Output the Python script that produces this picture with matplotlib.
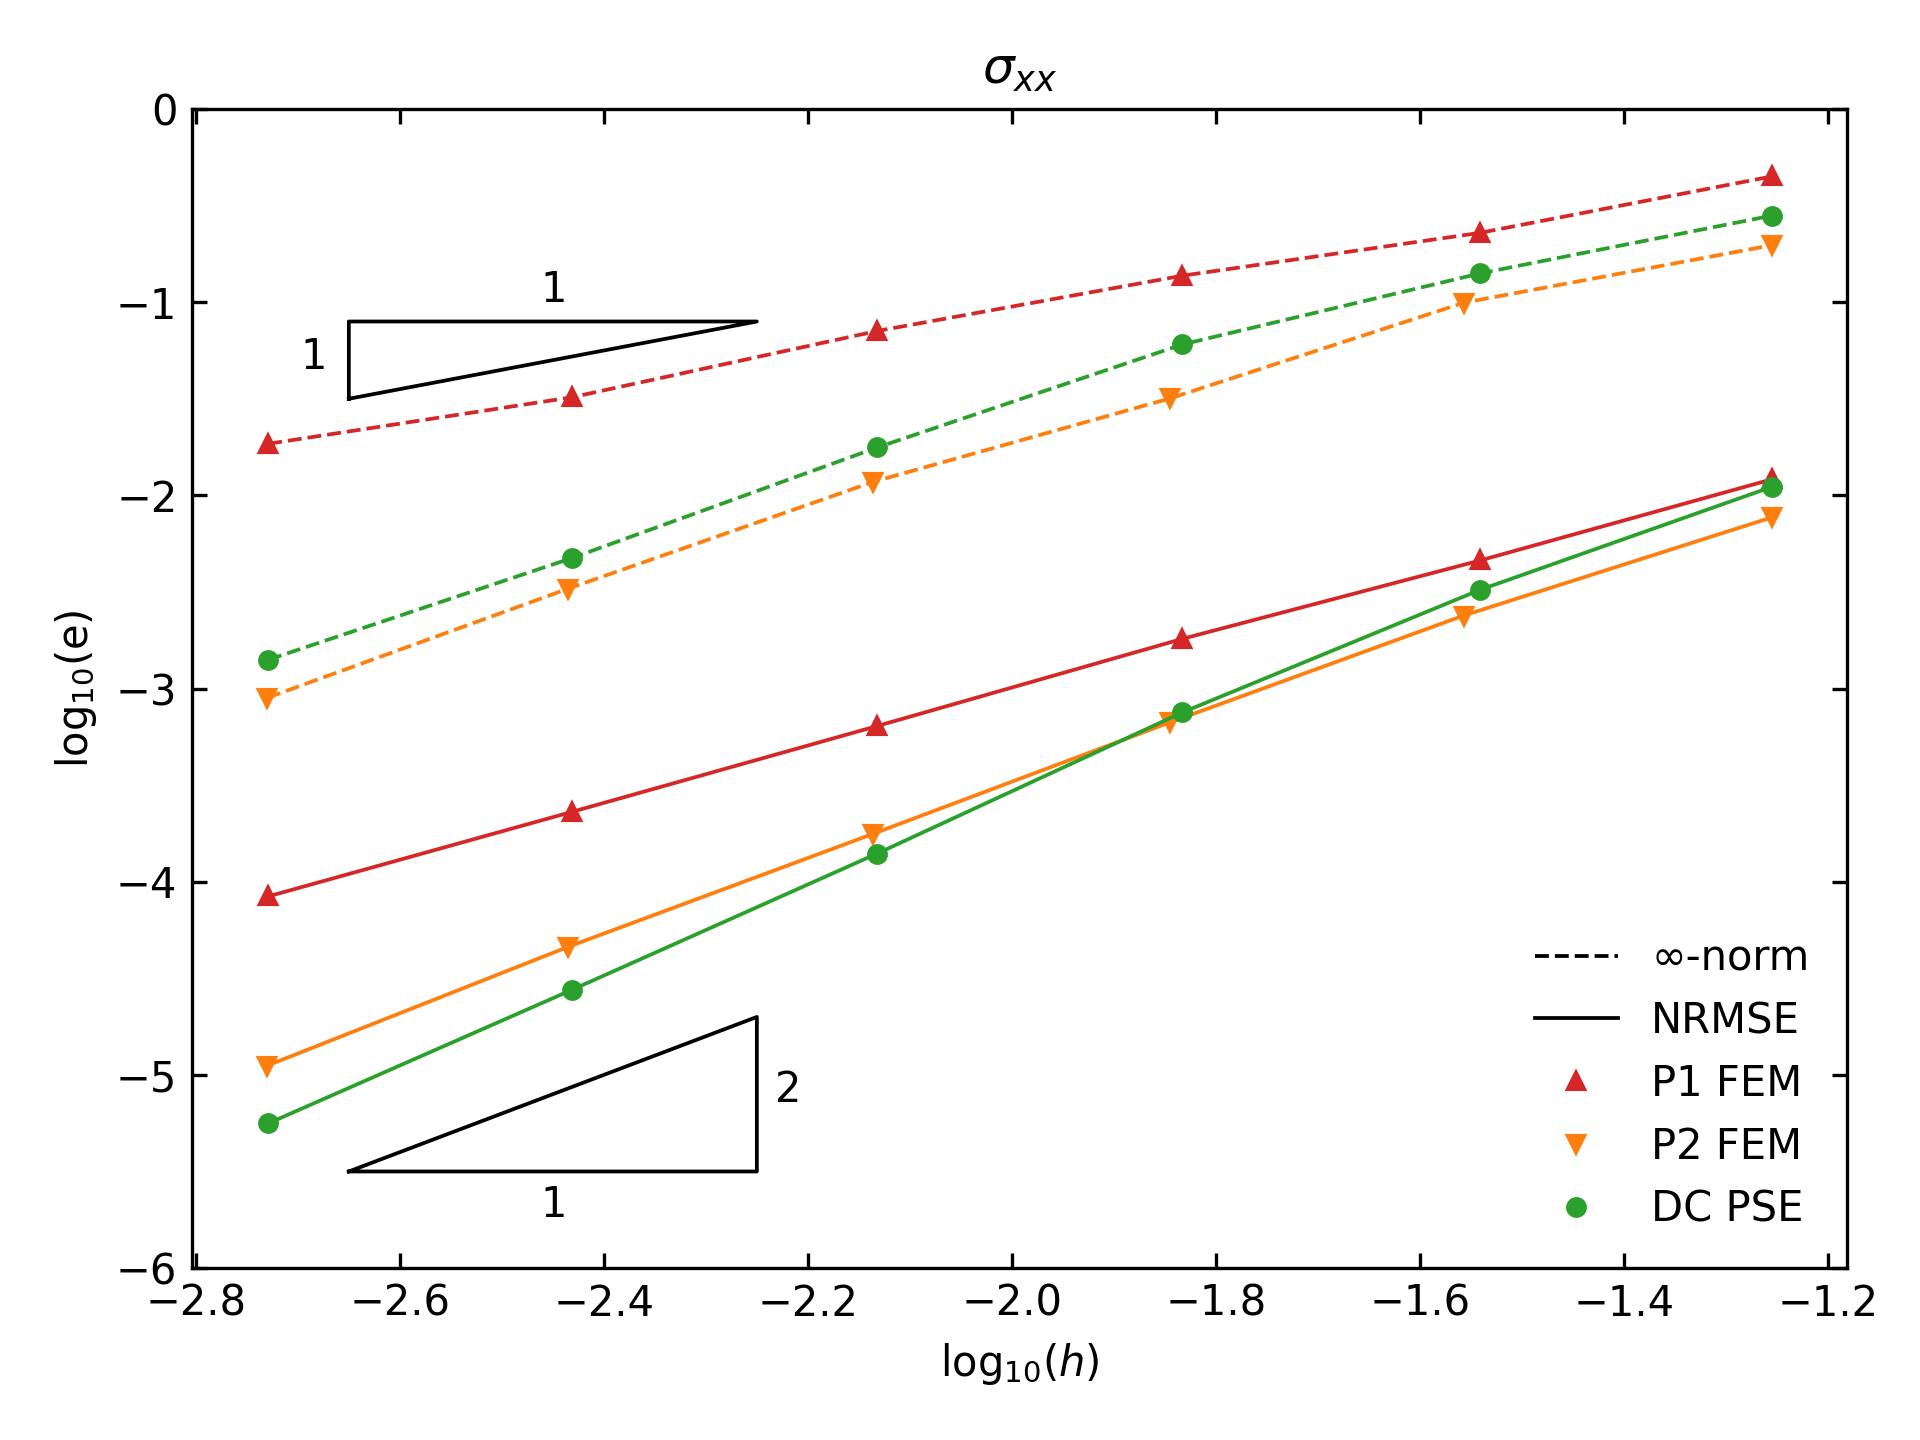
import numpy as np
import matplotlib
matplotlib.use("Agg")
from matplotlib import pyplot as plt
from matplotlib.lines import Line2D

# log10(h) for each method
h_p1 = [-2.729, -2.431, -2.132, -1.833, -1.541, -1.255]
h_p2 = [-2.730, -2.435, -2.136, -1.845, -1.557, -1.255]
h_dc = [-2.729, -2.431, -2.132, -1.833, -1.541, -1.255]

# log10(e), infinity norm
inf_p1 = [-1.733, -1.492, -1.149, -0.863, -0.641, -0.349]
inf_p2 = [-3.048, -2.483, -1.930, -1.498, -1.003, -0.705]
inf_dc = [-2.851, -2.324, -1.752, -1.219, -0.851, -0.552]

# log10(e), NRMSE
rms_p1 = [-4.076, -3.638, -3.194, -2.743, -2.337, -1.917]
rms_p2 = [-4.952, -4.337, -3.752, -3.175, -2.622, -2.114]
rms_dc = [-5.251, -4.559, -3.854, -3.124, -2.489, -1.956]

# slope triangles
tri1_x = [-2.65, -2.65, -2.25, -2.65]
tri1_y = [-1.5, -1.1, -1.1, -1.5]
tri2_x = [-2.65, -2.25, -2.25, -2.65]
tri2_y = [-5.5, -5.5, -4.7, -5.5]

fig = plt.figure(figsize=(6.4, 4.8), dpi=300)
ax = fig.add_subplot(111)
fig.subplots_adjust(left=0.1, right=0.962, top=0.9243, bottom=0.1194)

lw = 0.9
ms = 4
ax.plot(h_p1, inf_p1, '--^', color='tab:red', lw=lw, ms=ms)
ax.plot(h_p2, inf_p2, '--v', color='tab:orange', lw=lw, ms=ms)
ax.plot(h_dc, inf_dc, '--o', color='tab:green', lw=lw, ms=ms)
ax.plot(h_p1, rms_p1, '-^', color='tab:red', lw=lw, ms=ms)
ax.plot(h_p2, rms_p2, '-v', color='tab:orange', lw=lw, ms=ms)
ax.plot(h_dc, rms_dc, '-o', color='tab:green', lw=lw, ms=ms)

ax.plot(tri1_x, tri1_y, 'k-', lw=lw)
ax.plot(tri2_x, tri2_y, 'k-', lw=lw)
ax.text(-2.449, -0.937, '1', ha='center', va='center')
ax.text(-2.684, -1.284, '1', ha='center', va='center')
ax.text(-2.219, -5.08, '2', ha='center', va='center')
ax.text(-2.449, -5.673, '1', ha='center', va='center')

ax.set_ylim(-6, 0)
ax.set_xticks(np.arange(-2.8, -1.19, 0.2))
ax.set_yticks(np.arange(-6, 1, 1))
ax.tick_params(direction='in', top=True, right=True)

ax.set_title(r'$\sigma_{xx}$')
ax.set_xlabel(r'log$_{10}(h)$')
ax.set_ylabel(r'log$_{10}$(e)')

handles = [
    Line2D([], [], color='k', ls='--', lw=lw),
    Line2D([], [], color='k', ls='-', lw=lw),
    Line2D([], [], color='tab:red', ls='none', marker='^', ms=ms),
    Line2D([], [], color='tab:orange', ls='none', marker='v', ms=ms),
    Line2D([], [], color='tab:green', ls='none', marker='o', ms=ms),
]
labels = ['\u221e-norm', 'NRMSE', 'P1 FEM', 'P2 FEM', 'DC PSE']
ax.legend(handles, labels, loc='lower right', frameon=False)

fig.savefig('out.png', dpi=300)
